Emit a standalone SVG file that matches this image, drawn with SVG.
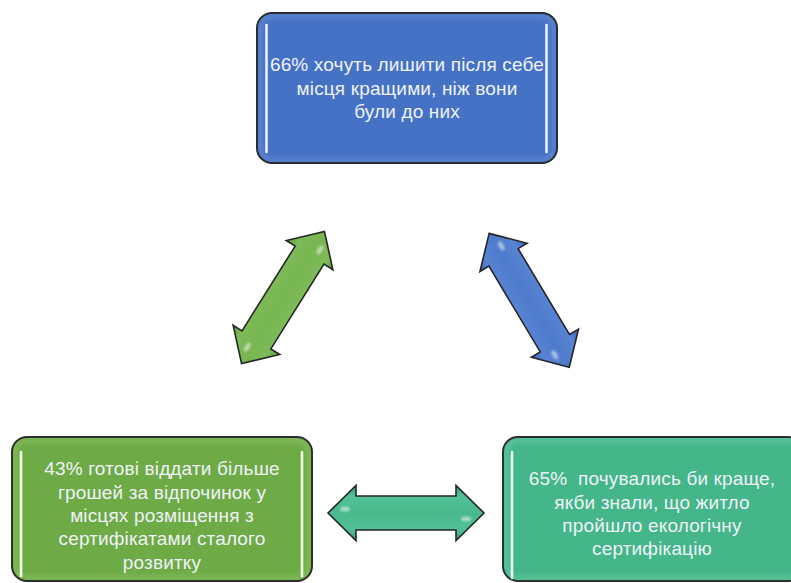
<svg xmlns="http://www.w3.org/2000/svg" width="791" height="583" viewBox="0 0 791 583">
<defs>
<style>
.box{stroke:#1e1e1e;stroke-width:2}
.inner{fill:none;stroke-width:3;stroke-opacity:0.35}
.lbl{font-family:"Liberation Sans",Arial,sans-serif;font-size:19px;letter-spacing:0.15px;fill:#EEF2F8;text-anchor:middle;white-space:pre}
.arr{stroke:#262626;stroke-width:1.6;stroke-linejoin:miter}
.glow{stroke-width:6;stroke-linecap:round;opacity:0.55}
.core{stroke-width:2.6;stroke-linecap:round}
.hl{fill:#ffffff;opacity:0.5}
</style>
<filter id="blur" x="-50%" y="-10%" width="200%" height="120%"><feGaussianBlur stdDeviation="1.5"/></filter>
<filter id="blur2" x="-100%" y="-100%" width="300%" height="300%"><feGaussianBlur stdDeviation="1.2"/></filter>
<filter id="soft" x="-5%" y="-5%" width="110%" height="110%"><feGaussianBlur stdDeviation="2.5"/></filter>
<linearGradient id="gGreen" x1="0" y1="0" x2="0" y2="1">
<stop offset="0" stop-color="#5f9c3c"/><stop offset="0.2" stop-color="#7dbb58"/><stop offset="0.5" stop-color="#78b652"/><stop offset="0.8" stop-color="#7dbb58"/><stop offset="1" stop-color="#5f9c3c"/>
</linearGradient>
<linearGradient id="gBlue" x1="0" y1="0" x2="0" y2="1">
<stop offset="0" stop-color="#3a64b3"/><stop offset="0.2" stop-color="#5884d3"/><stop offset="0.5" stop-color="#4f7bcc"/><stop offset="0.8" stop-color="#5884d3"/><stop offset="1" stop-color="#3a64b3"/>
</linearGradient>
<linearGradient id="gTeal" x1="0" y1="0" x2="0" y2="1">
<stop offset="0" stop-color="#35a078"/><stop offset="0.2" stop-color="#52c197"/><stop offset="0.5" stop-color="#48b98c"/><stop offset="0.8" stop-color="#52c197"/><stop offset="1" stop-color="#35a078"/>
</linearGradient>
<path id="dbl" d="M-78,0 L-50,-27.5 L-50,-17 L50,-17 L50,-27.5 L78,0 L50,27.5 L50,17 L-50,17 L-50,27.5 Z"/>
</defs>
<rect width="791" height="583" fill="#ffffff"/>

<g id="connectors">
<g id="arrow-green" transform="translate(283,297.5) rotate(-57.9)">
<use href="#dbl" class="arr" fill="url(#gGreen)"/>
<ellipse class="hl" cx="60" cy="6" rx="5" ry="2.5" filter="url(#blur2)"/>
<ellipse class="hl" cx="-61" cy="-4" rx="5" ry="2.5" filter="url(#blur2)"/>
</g>
<g id="arrow-blue" transform="translate(529.2,300.3) rotate(59.1)">
<use href="#dbl" class="arr" fill="url(#gBlue)"/>
<ellipse class="hl" cx="60" cy="6" rx="5" ry="2.5" filter="url(#blur2)"/>
<ellipse class="hl" cx="-61" cy="-4" rx="5" ry="2.5" filter="url(#blur2)"/>
</g>
<g id="arrow-teal" transform="translate(406,513)">
<use href="#dbl" class="arr" fill="url(#gTeal)"/>
<ellipse class="hl" cx="60" cy="6" rx="5" ry="2.5" filter="url(#blur2)"/>
<ellipse class="hl" cx="-61" cy="-4" rx="5" ry="2.5" filter="url(#blur2)"/>
</g>
</g>

<g id="node-top">
<rect class="box" x="257" y="13" width="300" height="150" rx="15" fill="#4672c5"/>
<rect class="inner" x="260" y="16" width="294" height="144" rx="12" stroke="#a9c3f0" filter="url(#soft)"/>
<line class="glow" x1="266.5" y1="25" x2="266.5" y2="152" stroke="#cfe0ff" filter="url(#blur)"/>
<line class="core" x1="266.5" y1="25" x2="266.5" y2="152" stroke="#e9f1ff"/>
<line class="glow" x1="546.5" y1="25" x2="546.5" y2="152" stroke="#cfe0ff" filter="url(#blur)"/>
<line class="core" x1="546.5" y1="25" x2="546.5" y2="152" stroke="#e9f1ff"/>
<text class="lbl" x="407" y="71">66% хочуть лишити після себе</text>
<text class="lbl" x="407" y="94.5">місця кращими, ніж вони</text>
<text class="lbl" x="407" y="117.5">були до них</text>
</g>

<g id="node-left">
<rect class="box" x="12" y="437" width="300" height="144" rx="15" fill="#6eab46"/>
<rect class="inner" x="15" y="440" width="294" height="138" rx="12" stroke="#c8ecab" filter="url(#soft)"/>
<line class="glow" x1="21" y1="452" x2="21" y2="576" stroke="#d6f7b6" filter="url(#blur)"/>
<line class="core" x1="21" y1="452" x2="21" y2="576" stroke="#effde2"/>
<line class="glow" x1="302" y1="452" x2="302" y2="576" stroke="#d6f7b6" filter="url(#blur)"/>
<line class="core" x1="302" y1="452" x2="302" y2="576" stroke="#effde2"/>
<text class="lbl" x="162" y="475">43% готові віддати більше</text>
<text class="lbl" x="162" y="498.5">грошей за відпочинок у</text>
<text class="lbl" x="162" y="522">місцях розміщення з</text>
<text class="lbl" x="162" y="545">сертифікатами сталого</text>
<text class="lbl" x="162" y="568.5">розвитку</text>
</g>

<g id="node-right">
<rect class="box" x="503" y="437" width="300" height="144" rx="15" fill="#44b68a"/>
<rect class="inner" x="506" y="440" width="294" height="138" rx="12" stroke="#b6ecd6" filter="url(#soft)"/>
<line class="glow" x1="512" y1="452" x2="512" y2="578" stroke="#c4f5e0" filter="url(#blur)"/>
<line class="core" x1="512" y1="452" x2="512" y2="578" stroke="#e8fdf4"/>
<text class="lbl" x="652" y="485">65%  почувались би краще,</text>
<text class="lbl" x="652" y="508.5">якби знали, що житло</text>
<text class="lbl" x="652" y="532">пройшло екологічну</text>
<text class="lbl" x="652" y="555">сертифікацію</text>
</g>
</svg>
